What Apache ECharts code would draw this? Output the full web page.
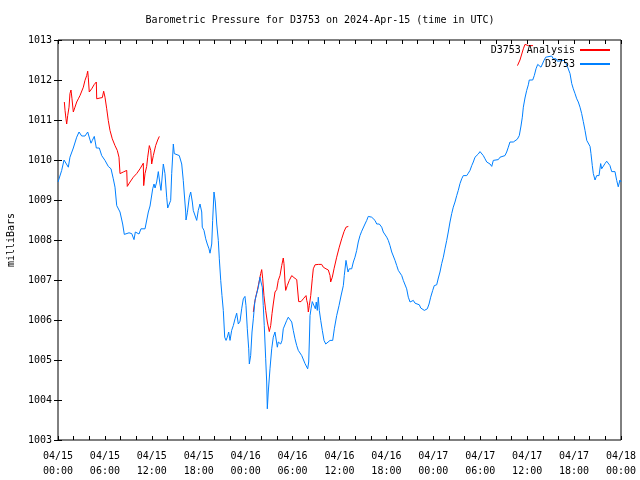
<!DOCTYPE html>
<html>
<head>
<meta charset="utf-8">
<script src="https://cdn.jsdelivr.net/npm/echarts@6/dist/echarts.min.js"></script>
<style>
  html, body { margin: 0; padding: 0; background: #fff; }
  #chart { width: 640px; height: 480px; }
</style>
</head>
<body>
<div id="chart"></div>
<script>
// Hours since 2024-04-15 00:00 UTC
const xTickHours = [0, 6, 12, 18, 24, 30, 36, 42, 48, 54, 60, 66, 72];
const xTickLabels = ['04/15\n00:00','04/15\n06:00','04/15\n12:00','04/15\n18:00','04/16\n00:00','04/16\n06:00','04/16\n12:00','04/16\n18:00','04/17\n00:00','04/17\n06:00','04/17\n12:00','04/17\n18:00','04/18\n00:00'];

// D3753 observed pressure (mb)
const obsHours = [0,0.47,0.77,1.02,1.32,1.53,1.96,2.39,2.69,3.03,3.45,3.80,4.22,4.39,4.64,4.90,5.28,5.59,6.01,6.43,6.78,7.07,7.29,7.51,7.93,8.27,8.48,9.08,9.43,9.72,9.89,10.36,10.61,11.13,11.55,11.77,12.11,12.28,12.41,12.62,12.83,13.04,13.17,13.47,13.68,13.90,14.03,14.23,14.41,14.54,14.75,14.87,15.09,15.51,15.82,16.02,16.15,16.33,16.37,16.54,16.79,16.97,17.18,17.30,17.52,17.74,17.94,18.16,18.38,18.45,18.67,18.89,19.09,19.31,19.44,19.66,19.78,19.95,20.12,20.30,20.50,20.63,20.81,20.97,21.14,21.32,21.49,21.65,21.83,22.00,22.21,22.42,22.64,22.85,23.06,23.28,23.49,23.70,23.91,24.04,24.21,24.39,24.47,24.64,24.81,24.98,25.19,25.41,25.62,25.83,25.96,26.13,26.25,26.38,26.56,26.69,26.77,26.89,27.11,27.33,27.53,27.75,27.88,28.05,28.17,28.48,28.65,28.81,29.03,29.25,29.45,29.67,29.89,30.09,30.31,30.53,30.73,30.95,31.17,31.37,31.59,31.81,31.93,32.06,32.14,32.23,32.36,32.52,32.74,32.91,33.03,33.16,33.29,33.42,33.60,33.80,34.02,34.24,34.44,34.79,35.13,35.34,35.64,35.94,36.19,36.49,36.61,36.83,37.00,37.09,37.25,37.56,37.77,37.98,38.20,38.40,38.62,38.84,39.04,39.26,39.48,39.68,39.90,40.12,40.32,40.54,40.76,41.09,41.40,41.60,41.82,42.04,42.24,42.46,42.68,42.88,43.10,43.32,43.52,43.74,43.96,44.16,44.38,44.59,44.80,45.02,45.23,45.44,45.66,45.87,46.21,46.39,46.64,46.85,47.06,47.23,47.45,47.66,47.92,48.12,48.43,48.64,48.85,49.07,49.28,49.49,49.71,49.91,50.13,50.35,50.55,50.77,50.99,51.19,51.41,51.63,51.83,52.27,52.47,52.69,52.91,53.11,53.33,53.55,53.75,53.97,54.19,54.39,54.61,54.83,55.03,55.25,55.47,55.67,55.89,56.31,56.53,56.74,57.16,57.38,57.59,57.80,58.02,58.23,58.44,58.74,58.99,59.21,59.38,59.51,59.72,59.94,60.15,60.27,60.71,60.91,61.13,61.35,61.55,61.77,61.99,62.15,62.37,62.58,63.14,63.34,63.69,63.86,64.71,64.97,65.14,65.31,65.48,65.70,65.90,66.12,66.34,66.54,66.76,66.97,67.18,67.40,67.62,67.82,68.04,68.16,68.33,68.46,68.68,68.89,69.19,69.40,69.53,69.74,69.95,70.17,70.37,70.59,70.81,71.23,71.45,71.65,71.87,72];
const obsValues = [1009.45,1009.74,1010.0,1009.95,1009.82,1010.07,1010.3,1010.57,1010.7,1010.6,1010.6,1010.7,1010.42,1010.49,1010.59,1010.3,1010.3,1010.11,1009.99,1009.84,1009.78,1009.53,1009.32,1008.86,1008.7,1008.4,1008.14,1008.18,1008.16,1008.01,1008.2,1008.15,1008.28,1008.28,1008.7,1008.85,1009.28,1009.4,1009.3,1009.45,1009.71,1009.4,1009.24,1009.9,1009.66,1009.07,1008.8,1008.8,1008.99,1009.66,1010.4,1010.16,1010.11,1010.11,1009.9,1009.49,1009.15,1008.7,1008.5,1008.68,1009.07,1009.2,1008.95,1008.74,1008.74,1008.49,1008.74,1008.9,1008.7,1008.32,1008.24,1008.03,1007.9,1007.78,1007.67,1007.9,1008.49,1009.2,1008.95,1008.4,1007.99,1007.53,1006.99,1006.61,1006.24,1005.57,1005.49,1005.57,1005.7,1005.49,1005.74,1005.86,1006.03,1006.17,1005.9,1005.97,1006.28,1006.53,1006.59,1006.36,1005.78,1005.28,1004.9,1005.11,1005.7,1006.03,1006.49,1006.49,1006.82,1007.07,1006.95,1006.82,1006.36,1005.86,1005.03,1004.45,1003.78,1004.2,1004.78,1005.28,1005.57,1005.7,1005.65,1005.32,1005.45,1005.4,1005.49,1005.78,1005.82,1005.99,1006.07,1006.09,1005.95,1005.74,1005.53,1005.36,1005.24,1005.2,1005.11,1005.07,1004.91,1004.86,1004.78,1004.95,1005.45,1006.11,1006.28,1006.46,1006.49,1006.28,1006.45,1006.24,1006.57,1006.24,1005.99,1005.74,1005.49,1005.4,1005.45,1005.49,1005.49,1005.78,1006.11,1006.36,1006.6,1006.86,1007.11,1007.49,1007.49,1007.2,1007.28,1007.28,1007.45,1007.57,1007.74,1007.95,1008.11,1008.22,1008.22,1008.4,1008.49,1008.59,1008.61,1008.57,1008.53,1008.49,1008.4,1008.4,1008.32,1008.2,1008.16,1008.07,1007.99,1007.86,1007.7,1007.66,1007.49,1007.36,1007.24,1007.2,1007.11,1006.99,1006.96,1006.78,1006.57,1006.45,1006.4,1006.49,1006.42,1006.39,1006.38,1006.3,1006.28,1006.24,1006.2,1006.28,1006.4,1006.57,1006.74,1006.86,1006.88,1007.05,1007.2,1007.41,1007.57,1007.78,1007.99,1008.2,1008.45,1008.66,1008.82,1008.95,1009.11,1009.24,1009.41,1009.53,1009.61,1009.61,1009.67,1009.74,1009.86,1009.95,1010.07,1010.11,1010.15,1010.21,1010.21,1010.11,1010.03,1009.95,1009.9,1009.9,1009.84,1009.99,1010.01,1010.01,1010.07,1010.09,1010.11,1010.2,1010.32,1010.45,1010.5,1010.45,1010.5,1010.52,1010.61,1010.85,1011.07,1011.32,1011.55,1011.74,1011.88,1012.0,1012.0,1012.11,1012.28,1012.39,1012.41,1012.32,1012.36,1012.49,1012.57,1012.6,1012.6,1012.53,1012.53,1012.47,1012.49,1012.41,1012.34,1012.3,1012.16,1011.91,1011.78,1011.66,1011.53,1011.45,1011.32,1011.16,1010.96,1010.74,1010.49,1010.45,1010.34,1010.16,1009.86,1009.66,1009.5,1009.61,1009.61,1009.91,1009.78,1009.8,1009.91,1009.97,1010.0,1009.86,1009.71,1009.71,1009.49,1009.33,1009.5,1009.45];

// D3753 Analysis (three separate runs)
const anaHours1 = [0.81,0.90,1.02,1.11,1.24,1.41,1.53,1.66,1.79,1.96,2.17,2.39,2.60,2.81,3.03,3.24,3.45,3.67,3.80,3.87,4.00,4.31,4.64,4.90,4.95,5.37,5.67,5.84,6.01,6.23,6.43,6.65,6.94,7.29,7.58,7.80,7.93,8.35,8.79,8.86,9.21,9.63,10.06,10.49,10.91,10.96,11.13,11.34,11.47,11.68,11.86,11.98,12.19,12.49,12.75,12.96];
const anaValues1 = [1011.45,1011.24,1011.03,1010.9,1011.11,1011.32,1011.66,1011.75,1011.53,1011.2,1011.32,1011.45,1011.53,1011.61,1011.66,1011.82,1011.99,1012.11,1012.22,1012.07,1011.7,1011.78,1011.89,1011.95,1011.53,1011.55,1011.56,1011.72,1011.57,1011.28,1010.99,1010.74,1010.53,1010.36,1010.24,1010.07,1009.66,1009.7,1009.74,1009.34,1009.45,1009.57,1009.66,1009.78,1009.92,1009.36,1009.66,1009.84,1010.07,1010.36,1010.24,1009.9,1010.11,1010.36,1010.5,1010.59];
const anaHours2 = [24.98,25.10,25.28,25.49,25.71,25.92,26.05,26.18,26.34,26.56,26.77,27.02,27.20,27.37,27.53,27.75,27.97,28.17,28.39,28.61,28.81,28.90,29.03,29.12,29.32,29.58,29.89,30.18,30.53,30.73,30.78,31.08,31.37,31.72,31.81,31.93,32.01,32.14,32.32,32.52,32.65,32.87,33.29,33.72,33.93,34.27,34.57,34.79,34.87,35.08,35.30,35.64,35.97,36.28,36.58,36.83,37.13];
const anaValues2 = [1006.2,1006.38,1006.57,1006.74,1006.95,1007.16,1007.26,1007.03,1006.61,1006.24,1005.95,1005.71,1005.86,1006.16,1006.4,1006.7,1006.76,1006.99,1007.11,1007.36,1007.55,1007.41,1006.95,1006.74,1006.86,1006.99,1007.11,1007.06,1007.01,1006.99,1006.46,1006.46,1006.53,1006.61,1006.49,1006.4,1006.2,1006.36,1006.61,1007.03,1007.28,1007.38,1007.39,1007.39,1007.32,1007.28,1007.25,1007.11,1006.95,1007.07,1007.28,1007.57,1007.82,1008.03,1008.21,1008.32,1008.34];
const anaHours3 = [58.76,59.08,59.51,59.72,60.15,60.75];
const anaValues3 = [1012.36,1012.5,1012.78,1012.89,1012.86,1012.86];

const yMin = 1003, yMax = 1013, yStep = 1;

function pairs(h, v) { return h.map((x, i) => [x, v[i]]); }
const obsData = pairs(obsHours, obsValues);
const anaData = [].concat(
  pairs(anaHours1, anaValues1), [[18, '-']],
  pairs(anaHours2, anaValues2), [[48, '-']],
  pairs(anaHours3, anaValues3)
);

const FONT = 'DejaVu Sans Mono';
const chart = echarts.init(document.getElementById('chart'), null, { renderer: 'canvas' });

const xCommon = {
  type: 'value', min: 0, max: 72, interval: 6,
  axisLine: { show: false },
  axisTick: { show: true, inside: true, length: 4, lineStyle: { color: '#000', width: 1 } },
  minorTick: { show: true, splitNumber: 3, length: 4, lineStyle: { color: '#000', width: 1 } },
  splitLine: { show: false },
  minorSplitLine: { show: false }
};
const yCommon = {
  type: 'value', min: yMin, max: yMax, interval: yStep,
  axisLine: { show: false },
  axisTick: { show: true, inside: true, length: 4, lineStyle: { color: '#000', width: 1 } },
  splitLine: { show: false }
};

chart.setOption({
  animation: false,
  backgroundColor: '#fff',
  title: {
    text: 'Barometric Pressure for D3753 on 2024-Apr-15 (time in UTC)',
    left: 'center', top: 10,
    textStyle: { fontFamily: FONT, fontSize: 10, fontWeight: 'normal', color: '#000' }
  },
  legend: {
    data: ['D3753 Analysis', 'D3753'],
    orient: 'vertical', right: 30, top: 45, align: 'right', padding: 0,
    itemWidth: 30, itemHeight: 2, itemGap: 4, icon: 'rect',
    textStyle: { fontFamily: FONT, fontSize: 10, color: '#000' }
  },
  grid: {
    left: 58, right: 19, top: 40, bottom: 40,
    containLabel: false, outerBoundsMode: 'none',
    show: true, borderColor: '#000', borderWidth: 1, backgroundColor: 'transparent'
  },
  xAxis: [
    Object.assign({}, xCommon, {
      position: 'bottom',
      axisLabel: {
        fontFamily: FONT, fontSize: 10, color: '#000', margin: 9, lineHeight: 15,
        formatter: function (v) { const i = xTickHours.indexOf(v); return i >= 0 ? xTickLabels[i] : ''; }
      }
    }),
    Object.assign({}, xCommon, { position: 'top', axisLabel: { show: false } })
  ],
  yAxis: [
    Object.assign({}, yCommon, {
      position: 'left',
      name: 'milliBars', nameLocation: 'middle', nameRotate: 90, nameGap: 42,
      nameTextStyle: { fontFamily: FONT, fontSize: 10, color: '#000' },
      axisLabel: { fontFamily: FONT, fontSize: 10, color: '#000', margin: 6,
        formatter: function (v) { return String(v); } }
    }),
    Object.assign({}, yCommon, { position: 'right', axisLabel: { show: false } })
  ],
  series: [
    {
      name: 'D3753 Analysis', type: 'line', data: anaData, xAxisIndex: 0, yAxisIndex: 0,
      showSymbol: false, connectNulls: false, color: '#ff0000',
      lineStyle: { color: '#ff0000', width: 1 }, emphasis: { disabled: true }
    },
    {
      name: 'D3753', type: 'line', data: obsData, xAxisIndex: 0, yAxisIndex: 0,
      showSymbol: false, color: '#0080ff',
      lineStyle: { color: '#0080ff', width: 1 }, emphasis: { disabled: true }
    }
  ]
});
</script>
</body>
</html>
